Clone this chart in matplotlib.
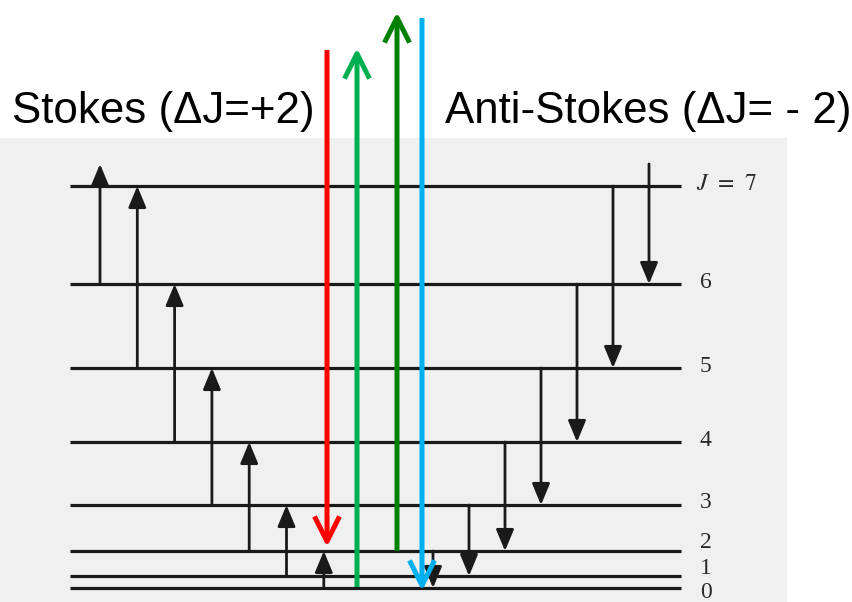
import matplotlib.pyplot as plt
from matplotlib.patches import Rectangle

# Rotational levels J and their heights above J=0 (arbitrary units)
levels = [0, 1, 2, 3, 4, 5, 6, 7]
level_height = [0, 12, 37, 83, 146, 220, 304, 402]
height_j8 = 424  # J=8 is not drawn, only reached by the outer arrows
label_shift = [-4, 8, 8, 3, 1, 1, 1, 2]  # level labels nudged apart at the bottom

# Stokes: J -> J+2 (up), Anti-Stokes: J -> J-2 (down)
stokes_from = [6, 5, 4, 3, 2, 1, 0]
anti_from = [8, 7, 6, 5, 4, 3, 2]

# Coloured photon arrows: (x, start, end, colour)
photon_x = [327, 357, 397, 422]
photon_start = [538, 1, 37, 570]
photon_end = [41, 540, 576, -3]
photon_colors = ['#FF0000', '#00B050', '#008000', '#00B0F0']

title_left = 'Stokes (ΔJ=+2)'
title_right = 'Anti-Stokes (ΔJ= - 2)'


def height_of(j):
    return height_j8 if j == 8 else level_height[j]


def plot_raman_levels():
    plt.rcParams['mathtext.fontset'] = 'stix'
    fig = plt.figure(figsize=(8.52, 6.02), dpi=100)
    ax = fig.add_axes([0, 0, 1, 1])
    ax.set_xlim(0, 852)
    ax.set_ylim(-14, 588)
    ax.axis('off')

    # scanned-page grey backdrop
    ax.add_patch(Rectangle((0, -14), 787, 464, facecolor='#F0F0F0',
                           edgecolor='none', zorder=0))

    # energy levels
    for j, h, dy in zip(levels, level_height, label_shift):
        ax.plot([70, 681], [h, h], color='#1A1A1A', lw=2.3,
                solid_capstyle='butt', zorder=2)
        label = r'$J\;\,=\;\,7$' if j == 7 else str(j)
        ax.text(696 if j == 7 else 700, h + dy, label,
                fontsize=17, family='Liberation Serif', color='#2A2A2A',
                va='center', ha='left')

    black_arrow = dict(arrowstyle='-|>,head_length=0.65,head_width=0.27',
                       mutation_scale=20, color='#1A1A1A', lw=2.0,
                       shrinkA=0, shrinkB=0)

    # Stokes transitions (left, upward)
    for i, j in enumerate(stokes_from):
        x = 100 + i * 37.3
        ax.annotate('', xy=(x, height_of(j + 2)), xytext=(x, height_of(j)),
                    arrowprops=black_arrow, zorder=3)

    # Anti-Stokes transitions (right, downward)
    for i, j in enumerate(anti_from):
        x = 649 - i * 36
        ax.annotate('', xy=(x, height_of(j - 2)), xytext=(x, height_of(j)),
                    arrowprops=black_arrow, zorder=3)

    # photon arrows
    for x, y0, y1, c in zip(photon_x, photon_start, photon_end, photon_colors):
        ax.annotate('', xy=(x, y1), xytext=(x, y0),
                    arrowprops=dict(arrowstyle='->,head_length=0.6,head_width=0.3',
                                    mutation_scale=30, color=c, lw=3.6,
                                    shrinkA=0, shrinkB=0,
                                    capstyle='butt'),
                    zorder=4)

    ax.text(12, 465, title_left, fontsize=31.6, family='Liberation Sans',
            va='baseline', ha='left', color='black')
    ax.text(445, 465, title_right, fontsize=31.6, family='Liberation Sans',
            va='baseline', ha='left', color='black')

    fig.savefig('out.png', dpi=100)


if __name__ == '__main__':
    plot_raman_levels()
